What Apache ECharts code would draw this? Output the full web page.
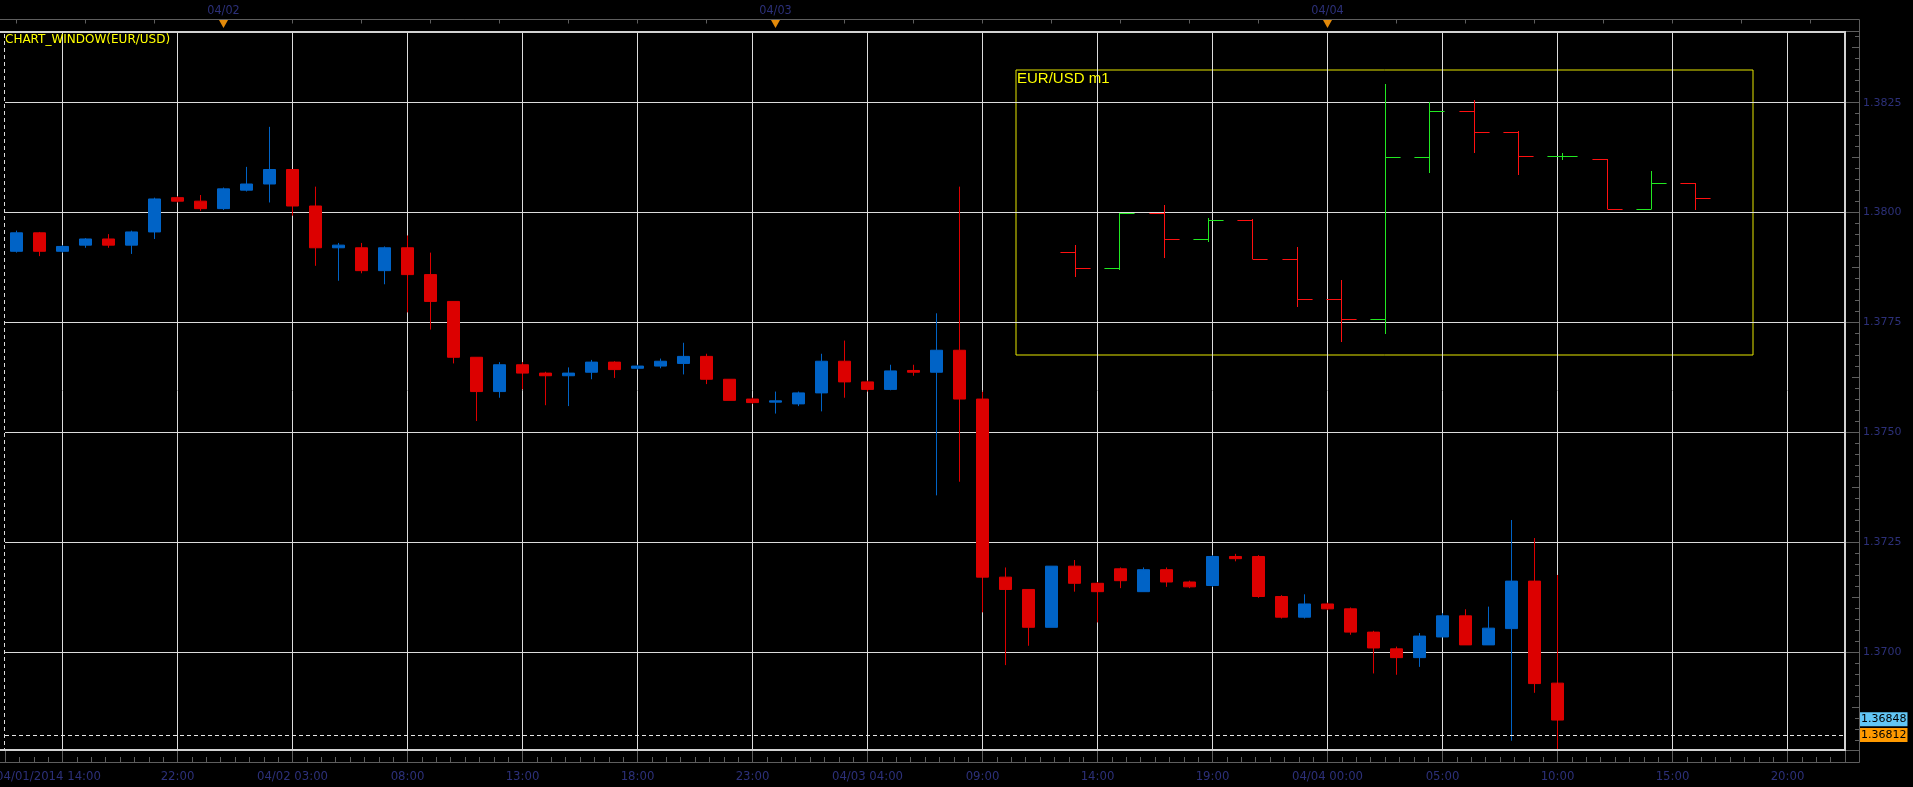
<!DOCTYPE html>
<html><head><meta charset="utf-8">
<script src="https://cdn.jsdelivr.net/npm/echarts@6/dist/echarts.min.js"></script>
<style>html,body{margin:0;padding:0;background:#000;overflow:hidden}#c{width:1913px;height:787px}</style>
</head><body><div id="c"></div>
<script>
// ---------- DATA ----------
const categories = [
 "04/01 15:00","04/01 16:00","04/01 17:00","04/01 18:00","04/01 19:00","04/01 20:00","04/01 21:00","04/01 22:00","04/01 23:00",
 "04/02 00:00","04/02 01:00","04/02 02:00","04/02 03:00","04/02 04:00","04/02 05:00","04/02 06:00","04/02 07:00","04/02 08:00","04/02 09:00","04/02 10:00","04/02 11:00","04/02 12:00","04/02 13:00","04/02 14:00","04/02 15:00","04/02 16:00","04/02 17:00","04/02 18:00","04/02 19:00","04/02 20:00","04/02 21:00","04/02 22:00","04/02 23:00",
 "04/03 00:00","04/03 01:00","04/03 02:00","04/03 03:00","04/03 04:00","04/03 05:00","04/03 06:00","04/03 07:00","04/03 08:00","04/03 09:00","04/03 10:00","04/03 11:00","04/03 12:00","04/03 13:00","04/03 14:00","04/03 15:00","04/03 16:00","04/03 17:00","04/03 18:00","04/03 19:00","04/03 20:00","04/03 21:00","04/03 22:00","04/03 23:00",
 "04/04 00:00","04/04 01:00","04/04 02:00","04/04 03:00","04/04 04:00","04/04 05:00","04/04 06:00","04/04 07:00","04/04 08:00","04/04 09:00","04/04 10:00","04/04 11:00","04/04 12:00","04/04 13:00","04/04 14:00","04/04 15:00","04/04 16:00","04/04 17:00","04/04 18:00","04/04 19:00","04/04 20:00","04/04 21:00","04/04 22:00"
];
const openV = [1.37912,1.37954,1.37912,1.37926,1.37940,1.37926,1.37956,1.38034,1.38026,1.38009,1.38051,1.38065,1.38098,1.38015,1.37920,1.37920,1.37868,1.37920,1.37859,1.37798,
 1.37671,1.37593,1.37654,1.37635,1.37629,1.37637,1.37660,1.37646,1.37651,1.37657,1.37673,1.37621,1.37576,1.37569,1.37565,1.37590,1.37662,1.37615,1.37598,1.37641,
 1.37637,1.37687,1.37576,1.37171,1.37143,1.37057,1.37196,1.37157,1.37190,1.37138,1.37188,1.37160,1.37152,1.37218,1.37218,1.37127,1.37080,1.37110,1.37099,1.37046,
 1.37008,1.36988,1.37035,1.37083,1.37017,1.37054,1.37162,1.36930];
const closeV = [1.37954,1.37912,1.37923,1.37940,1.37926,1.37956,1.38031,1.38026,1.38009,1.38054,1.38065,1.38098,1.38015,1.37920,1.37926,1.37868,1.37920,1.37859,1.37798,1.37671,
 1.37593,1.37654,1.37635,1.37629,1.37635,1.37660,1.37643,1.37651,1.37662,1.37673,1.37621,1.37573,1.37568,1.37572,1.37590,1.37662,1.37615,1.37598,1.37640,1.37637,
 1.37687,1.37576,1.37171,1.37143,1.37057,1.37196,1.37157,1.37138,1.37163,1.37188,1.37160,1.37149,1.37218,1.37213,1.37127,1.37080,1.37110,1.37099,1.37046,1.37010,
 1.36988,1.37037,1.37083,1.37017,1.37055,1.37162,1.36929,1.36846];
const lowV = [1.37909,1.37901,1.37909,1.37920,1.37920,1.37906,1.37940,1.38023,1.38004,1.38006,1.38048,1.38023,1.37993,1.37879,1.37845,1.37862,1.37837,1.37773,1.37734,1.37657,
 1.37526,1.37579,1.37598,1.37562,1.37560,1.37621,1.37624,1.37643,1.37646,1.37632,1.37610,1.37573,1.37565,1.37543,1.37560,1.37548,1.37579,1.37593,1.37596,1.37629,
 1.37357,1.37388,1.37091,1.36971,1.37015,1.37057,1.37138,1.37068,1.37146,1.37138,1.37149,1.37146,1.37149,1.37207,1.37124,1.37077,1.37077,1.37096,1.37040,1.36952,
 1.36949,1.36967,1.37035,1.37017,1.37017,1.36799,1.36908,1.36780];
const highV = [1.37959,1.37956,1.37926,1.37942,1.37951,1.37959,1.38034,1.38037,1.38040,1.38057,1.38104,1.38195,1.38098,1.38059,1.37931,1.37931,1.37923,1.37948,1.37909,1.37798,
 1.37671,1.37660,1.37660,1.37638,1.37648,1.37665,1.37662,1.37654,1.37668,1.37704,1.37679,1.37621,1.37579,1.37593,1.37593,1.37679,1.37709,1.37618,1.37654,1.37654,
 1.37771,1.38059,1.37593,1.37193,1.37143,1.37196,1.37210,1.37160,1.37193,1.37193,1.37193,1.37163,1.37221,1.37224,1.37221,1.37130,1.37132,1.37113,1.37102,1.37049,
 1.37013,1.37044,1.37089,1.37098,1.37104,1.37301,1.37260,1.37176];
const bottomTickLabels = ["04/01/2014 14:00","22:00","04/02 03:00","08:00","13:00","18:00","23:00","04/03 04:00","09:00","14:00","19:00","04/04 00:00","05:00","10:00","15:00","20:00"];
const dayMarkCats = ["04/02 00:00","04/03 00:00","04/04 00:00"];
const dayMarkLabels = ["04/02","04/03","04/04"];
const lastPrice = 1.36848;
const bidPrice = 1.36812;
// inset EUR/USD m1 bars
const insetOpen  = [1.37910,1.37874,1.37999,1.37940,1.37983,1.37894,1.37803,1.37758,1.38126,1.38230,1.38183,1.38129,1.38123,1.38009,1.38068];
const insetClose = [1.37874,1.37999,1.37940,1.37983,1.37894,1.37803,1.37758,1.38126,1.38230,1.38183,1.38129,1.38129,1.38009,1.38068,1.38034];
const insetLow   = [1.37855,1.37871,1.37898,1.37934,1.37894,1.37786,1.37707,1.37725,1.38091,1.38136,1.38086,1.38120,1.38009,1.38009,1.38007];
const insetHigh  = [1.37927,1.37999,1.38018,1.37987,1.37985,1.37922,1.37847,1.38292,1.38251,1.38256,1.38186,1.38135,1.38123,1.38095,1.38068];

// ---------- STYLE ----------
const NAVY = '#2c3079';
const GRAY = '#5e5e5e';
const GRID = '#dcdcdc';
const UP = '#0063c6', DOWN = '#dc0000';
const condensed = "'DejaVu Sans Condensed','Liberation Sans Narrow','DejaVu Sans',sans-serif";

const chart = echarts.init(document.getElementById('c'), null, {renderer: 'canvas'});
const yMin = 1.3677795, yMax = 1.3841295;

const priceTag = (v, bg) => ({show: true, position: 'end', distance: 15, formatter: v.toFixed(5), color: '#000', backgroundColor: bg,
  fontSize: 11, fontFamily: 'DejaVu Sans', padding: [2, 1, 1, 1]});

const option = {
  backgroundColor: '#000',
  animation: false,
  title: [
    {text: 'CHART_WINDOW(EUR/USD)', left: 5, top: 34, padding: 0,
     textStyle: {color: '#ffff00', fontSize: 12, fontWeight: 'normal', fontFamily: 'DejaVu Sans'}},
    {text: 'EUR/USD m1', left: 1017, top: 71, padding: 0,
     textStyle: {color: '#ffff00', fontSize: 15, fontWeight: 'normal', fontFamily: 'Liberation Sans'}}
  ],
  grid: [
    {left: 5, right: 68, top: 31, bottom: 37, outerBoundsMode: 'none', containLabel: false},
    {left: 1016, top: 70, width: 737, height: 285, show: true, borderColor: '#e6e600', borderWidth: 1,
     backgroundColor: 'transparent', outerBoundsMode: 'none', containLabel: false}
  ],
  xAxis: [
    {type: 'category', gridIndex: 0, data: categories, boundaryGap: true, position: 'bottom',
     axisLine: {show: false, onZero: false}, axisTick: {show: false}, axisLabel: {show: false}, splitLine: {show: false}},
    {type: 'category', gridIndex: 0, data: categories, boundaryGap: true, position: 'top', offset: 11.5,
     axisLine: {show: true, onZero: false, lineStyle: {color: GRAY, width: 1}},
     axisTick: {show: true, inside: true, length: 4, alignWithLabel: true, interval: (i) => i % 3 === 0, lineStyle: {color: GRAY}},
     axisLabel: {show: true, color: NAVY, fontSize: 12.5, fontFamily: condensed, margin: 2,
       interval: (i, v) => dayMarkCats.indexOf(v) >= 0,
       formatter: (v) => { const k = dayMarkCats.indexOf(v); return k >= 0 ? dayMarkLabels[k] : ''; }},
     splitLine: {show: false}},
    {type: 'value', gridIndex: 0, position: 'bottom', offset: 12, min: -2.5, max: 77.5, minInterval: 5, maxInterval: 5,
     axisLine: {show: true, onZero: false, lineStyle: {color: GRAY, width: 1}},
     axisTick: {show: true, inside: true, length: 12, lineStyle: {color: GRAY}},
     minorTick: {show: true, splitNumber: 8, length: 5, lineStyle: {color: GRAY}},
     splitLine: {show: true, showMinLine: false, showMaxLine: false, lineStyle: {color: GRID, width: 1}},
     axisLabel: {show: true, showMinLabel: false, showMaxLabel: false, color: NAVY, fontSize: 13, fontFamily: condensed, margin: 8,
       formatter: (v) => {
         const k = Math.round(v / 5);
         if (k === 0) return '{f|' + bottomTickLabels[0] + '}';
         return bottomTickLabels[k] || '';
       },
       rich: {f: {color: NAVY, fontSize: 13, fontFamily: condensed, padding: [0, 28, 0, 0]}}}},
    {type: 'value', gridIndex: 1, min: -1.33, max: 15.3, show: false, axisLine: {onZero: false}}
  ],
  yAxis: [
    {type: 'value', gridIndex: 0, position: 'right', offset: 14, min: yMin, max: yMax, minInterval: 0.0025, maxInterval: 0.0025,
     axisLine: {show: true, onZero: false, lineStyle: {color: GRAY, width: 1}},
     axisTick: {show: true, inside: true, length: 14, lineStyle: {color: GRAY}},
     minorTick: {show: true, splitNumber: 10, length: 4, lineStyle: {color: GRAY}},
     splitLine: {show: true, showMinLine: false, showMaxLine: false, lineStyle: {color: GRID, width: 1}},
     axisLabel: {show: true, showMinLabel: false, showMaxLabel: false, color: NAVY, fontSize: 11, fontFamily: 'DejaVu Sans', margin: 4,
       formatter: (v) => v.toFixed(4)}},
    {type: 'value', gridIndex: 0, position: 'right', offset: 14, min: yMin, max: yMax, minInterval: 0.0025, maxInterval: 0.0025,
     axisLine: {show: false, onZero: false}, axisTick: {show: false, inside: true},
     minorTick: {show: true, splitNumber: 2, length: 7, lineStyle: {color: GRAY}},
     splitLine: {show: false}, axisLabel: {show: false}},
    {type: 'value', gridIndex: 1, min: 1.37677, max: 1.38324, show: false, axisLine: {onZero: false}}
  ],
  series: [
    {type: 'candlestick', xAxisIndex: 0, yAxisIndex: 0, barWidth: 13,
     data: openV.map((o, i) => [o, closeV[i], lowV[i], highV[i]]),
     itemStyle: {color: UP, color0: DOWN, borderColor: UP, borderColor0: DOWN, borderWidth: 1},
     markLine: {silent: true, symbol: ['none', 'none'], animation: false, precision: 5,
       labelLayout: {hideOverlap: false},
       data: [
         {yAxis: bidPrice, lineStyle: {color: '#e6e6e6', type: [4, 3], width: 1}, label: priceTag(bidPrice, '#ff9a00')},
         {yAxis: lastPrice, lineStyle: {color: 'rgba(0,0,0,0)', width: 1}, label: priceTag(lastPrice, '#62c6f5')}
       ]}},
    {type: 'custom', xAxisIndex: 3, yAxisIndex: 2, clip: false,
     data: insetOpen.map((o, i) => [i, o, insetClose[i], insetLow[i], insetHigh[i]]),
     renderItem: (params, api) => {
       const i = api.value(0), o = api.value(1), c = api.value(2), l = api.value(3), h = api.value(4);
       const pO = api.coord([i, o]), pC = api.coord([i, c]), pL = api.coord([i, l]), pH = api.coord([i, h]);
       const w = api.size([1, 0])[0] * 0.34;
       const col = c >= o ? '#22e822' : '#ff1010';
       const x = Math.round(pO[0]) + 0.5;
       return {type: 'group', children: [
         {type: 'line', shape: {x1: x, y1: Math.round(pH[1]), x2: x, y2: Math.round(pL[1])}, style: {stroke: col, lineWidth: 1}},
         {type: 'line', shape: {x1: x - w, y1: Math.round(pO[1]) + 0.5, x2: x, y2: Math.round(pO[1]) + 0.5}, style: {stroke: col, lineWidth: 1}},
         {type: 'line', shape: {x1: x, y1: Math.round(pC[1]) + 0.5, x2: x + w, y2: Math.round(pC[1]) + 0.5}, style: {stroke: col, lineWidth: 1}}
       ]};
     }}
  ]
};
chart.setOption(option);

// decorations: frame, axis joins, day markers
const markers = dayMarkCats.map((cat) => {
  const x = chart.convertToPixel({xAxisIndex: 0}, cat);
  return {type: 'polygon', shape: {points: [[x - 4.5, 20], [x + 4.5, 20], [x, 28]]}, style: {fill: '#e38a0a'}, z: 100};
});
chart.setOption({
  graphic: [
    {type: 'rect', shape: {x: -5, y: 32, width: 1850, height: 718}, style: {fill: 'none', stroke: '#d2d2d2', lineWidth: 2}, z: 50, silent: true},
    {type: 'line', shape: {x1: 4.5, y1: 34, x2: 4.5, y2: 749}, style: {stroke: '#dddddd', lineWidth: 1, lineDash: [4, 3]}, z: 50, silent: true},
    {type: 'polyline', shape: {points: [[0, 19.5], [1859.5, 19.5], [1859.5, 762.5], [0, 762.5]]}, style: {fill: 'none', stroke: GRAY, lineWidth: 1}, z: 40, silent: true}
  ].concat(markers)
});
</script></body></html>
